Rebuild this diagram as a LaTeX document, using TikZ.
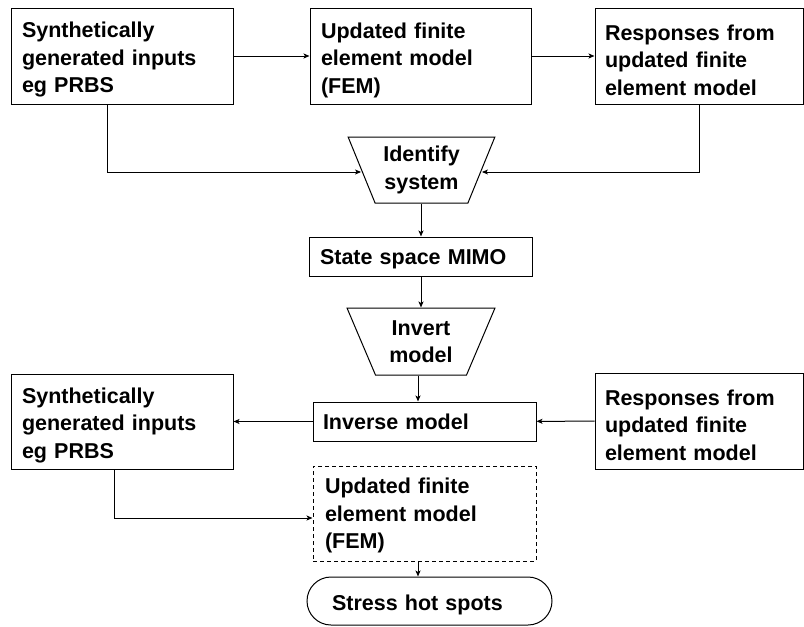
\documentclass[tikz,border=0pt]{standalone}
\usepackage{fontspec}
\setmainfont{Liberation Sans}
\usetikzlibrary{shapes.geometric,arrows.meta}
\begin{document}
\begin{tikzpicture}[x=1pt,y=-1pt,
  every node/.style={font=\fontsize{21.5}{27.5}\selectfont\bfseries},
  box/.style={draw, line width=1pt, inner xsep=11pt, inner ysep=0pt, align=left, anchor=center},
  drop/.style={execute at begin node={\rule{0pt}{#1}}},
  trap/.style={draw, line width=1pt, trapezium, trapezium angle=66, shape border rotate=180,
    trapezium stretches=true, align=center, minimum width=147pt, minimum height=66pt},
  link/.style={line width=1pt, -{Stealth[length=6pt,width=5pt,inset=1.5pt]}},
]
\useasboundingbox (0,0) rectangle (804,627);

% upper row
\node[box, drop=23.5pt, minimum width=222pt, text width=200pt, minimum height=96pt] (in1) at (122,56)
  {Synthetically\\generated inputs\\eg PRBS};
\node[box, drop=23.5pt, minimum width=221pt, text width=199pt, minimum height=96pt] (fem1) at (420.5,56)
  {Updated finite\\element model\\(FEM)};
\node[box, drop=23.5pt, minimum width=208pt, text width=188pt, inner xsep=10pt, minimum height=96pt] (resp1) at (699,56)
  {Responses from\\updated finite\\element model};

% identification chain
\node[trap] (ident) at (421.5,170) {Identify\\system};
\node[box, drop=21pt, minimum width=223pt, text width=201pt, minimum height=39pt] (ss) at (420.5,256.5)
  {State space MIMO};
\node[trap, minimum width=148pt, minimum height=67pt] (invert) at (421,341.5) {Invert\\model};
\node[box, minimum width=223pt, text width=203pt, inner xsep=10pt, minimum height=39pt] (inv) at (424.5,421.5)
  {Inverse model};

% lower row
\node[box, drop=23pt, minimum width=222pt, text width=200pt, minimum height=95pt] (in2) at (122,421.5)
  {Synthetically\\generated inputs\\eg PRBS};
\node[box, drop=24pt, minimum width=208pt, text width=188pt, inner xsep=10pt, minimum height=96pt] (resp2) at (699,421)
  {Responses from\\updated finite\\element model};
\node[box, drop=20pt, dash pattern=on 4pt off 3pt, minimum width=223pt, text width=199pt, inner xsep=12pt,
  minimum height=95pt] (fem2) at (424.5,513.5)
  {Updated finite\\element model\\(FEM)};
\node[draw, drop=24pt, line width=1pt, rounded corners=24pt, minimum width=245pt, minimum height=48pt,
  text width=195pt, inner xsep=25pt, inner ysep=0pt, align=left] (hot) at (429.5,601)
  {Stress hot spots};

% junction columns
\coordinate (c1) at (107,172);
\coordinate (c2) at (421,0);
\coordinate (c3) at (418,0);
\coordinate (c4) at (114,518);

% connectors
\draw[link] (in1) -- (fem1);
\draw[link] (fem1) -- (resp1);
\draw[link] (in1.south -| c1) |- (ident.west |- c1);
\draw[link] (resp1.south) |- (ident.east |- c1);
\draw[link] (ident.south -| c2) -- (ss.north -| c2);
\draw[link] (ss.south -| c2) -- (invert.north -| c2);
\draw[link] (invert.south -| c3) -- (inv.north -| c3);
\draw[link] (resp2) -- (inv);
\draw[link] (inv) -- (in2);
\draw[link] (in2.south -| c4) |- (fem2.west |- c4);
\draw[link] (fem2.south -| c3) -- (hot.north -| c3);
\end{tikzpicture}
\end{document}
